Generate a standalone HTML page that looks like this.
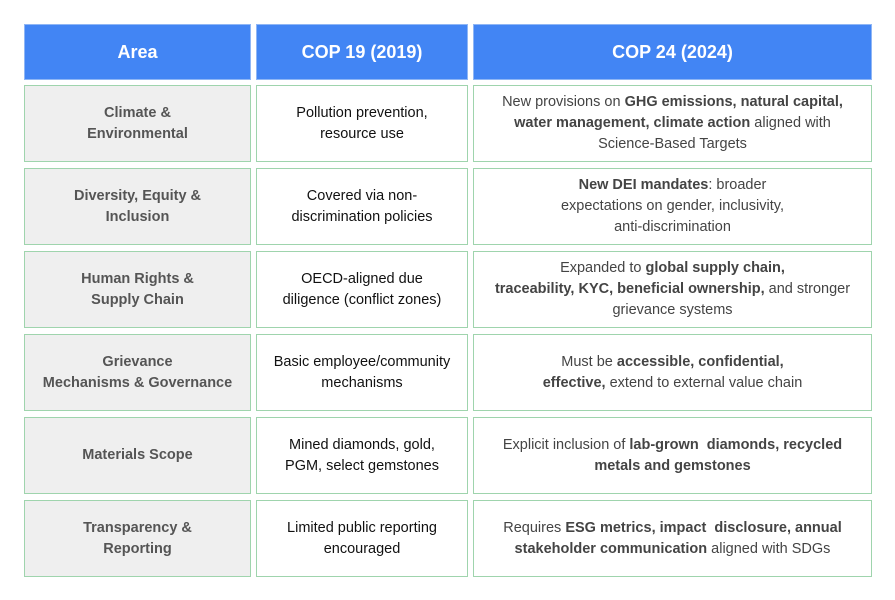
<!DOCTYPE html>
<html><head><meta charset="utf-8"><style>
body{margin:0;width:895px;height:600px;background:#fff;font-family:"Liberation Sans",Arial,sans-serif;position:relative;overflow:hidden}
.c{position:absolute;box-sizing:border-box;display:flex;align-items:center;justify-content:center;text-align:center;font-size:14.5px;line-height:21px}
.h{background:#4285f4;border:1px solid #8fb6f5;color:#fff;font-weight:bold;font-size:18px}
.b{border:1.5px solid #9fd4ad}
.a{background:#efefef;color:#555;font-weight:bold}
.m{color:#111}
.r{color:#444}
.r b{color:#444}
</style></head><body>
<div class="c h" style="left:24px;top:24px;width:227px;height:56px">Area</div>
<div class="c h" style="left:256px;top:24px;width:212px;height:56px">COP 19 (2019)</div>
<div class="c h" style="left:473px;top:24px;width:399px;height:56px">COP 24 (2024)</div>

<div class="c b a" style="left:24px;top:85px;width:227px;height:77px">Climate &amp;<br>Environmental</div>
<div class="c b m" style="left:256px;top:85px;width:212px;height:77px">Pollution prevention,<br>resource use</div>
<div class="c b r" style="left:473px;top:85px;width:399px;height:77px"><div>New provisions on <b>GHG emissions, natural capital,</b><br><b>water management, climate action</b> aligned with<br>Science-Based Targets</div></div>

<div class="c b a" style="left:24px;top:168px;width:227px;height:77px">Diversity, Equity &amp;<br>Inclusion</div>
<div class="c b m" style="left:256px;top:168px;width:212px;height:77px">Covered via non-<br>discrimination policies</div>
<div class="c b r" style="left:473px;top:168px;width:399px;height:77px"><div><b>New DEI mandates</b>: broader<br>expectations on gender, inclusivity,<br>anti-discrimination</div></div>

<div class="c b a" style="left:24px;top:251px;width:227px;height:77px">Human Rights &amp;<br>Supply Chain</div>
<div class="c b m" style="left:256px;top:251px;width:212px;height:77px">OECD-aligned due<br>diligence (conflict zones)</div>
<div class="c b r" style="left:473px;top:251px;width:399px;height:77px"><div>Expanded to <b>global supply chain,</b><br><b>traceability, KYC, beneficial ownership,</b> and stronger<br>grievance systems</div></div>

<div class="c b a" style="left:24px;top:334px;width:227px;height:77px">Grievance<br>Mechanisms &amp; Governance</div>
<div class="c b m" style="left:256px;top:334px;width:212px;height:77px">Basic employee/community<br>mechanisms</div>
<div class="c b r" style="left:473px;top:334px;width:399px;height:77px"><div>Must be <b>accessible, confidential,</b><br><b>effective,</b> extend to external value chain</div></div>

<div class="c b a" style="left:24px;top:417px;width:227px;height:77px">Materials Scope</div>
<div class="c b m" style="left:256px;top:417px;width:212px;height:77px">Mined diamonds, gold,<br>PGM, select gemstones</div>
<div class="c b r" style="left:473px;top:417px;width:399px;height:77px"><div>Explicit inclusion of <b>lab-grown&nbsp; diamonds, recycled</b><br><b>metals and gemstones</b></div></div>

<div class="c b a" style="left:24px;top:500px;width:227px;height:77px">Transparency &amp;<br>Reporting</div>
<div class="c b m" style="left:256px;top:500px;width:212px;height:77px">Limited public reporting<br>encouraged</div>
<div class="c b r" style="left:473px;top:500px;width:399px;height:77px"><div>Requires <b>ESG metrics, impact&nbsp; disclosure, annual</b><br><b>stakeholder communication</b> aligned with SDGs</div></div>
</body></html>
